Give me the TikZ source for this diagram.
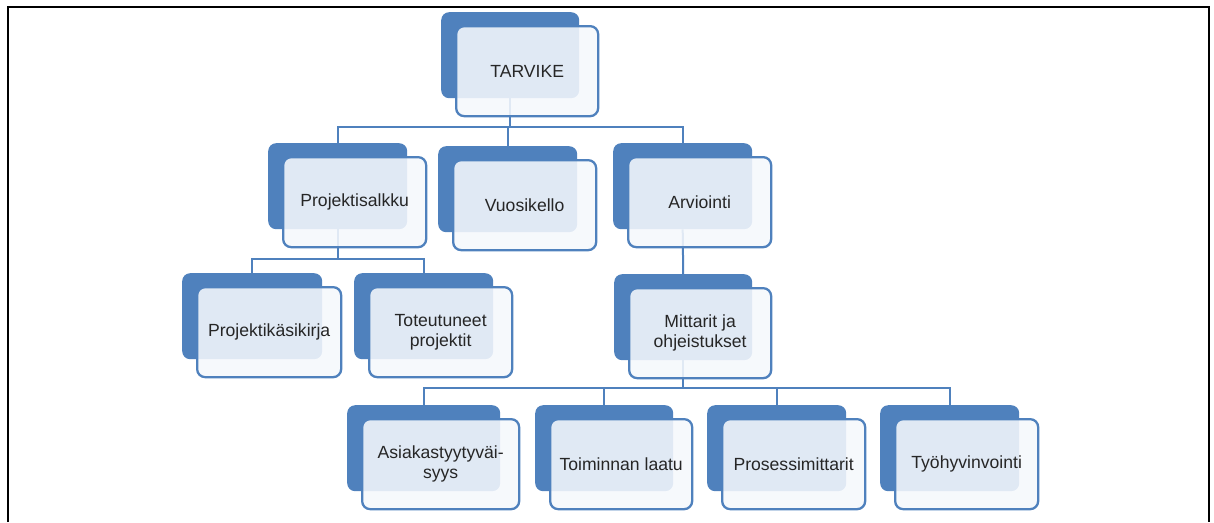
\documentclass[tikz,border=0pt]{standalone}
\usepackage{fontspec}
\setmainfont{Liberation Sans}
\definecolor{orgblue}{HTML}{4F81BD}
\definecolor{frontfill}{HTML}{F5F8FC}
\definecolor{txt}{HTML}{262626}
\pgfdeclarelayer{bg}
\pgfsetlayers{bg,main}
\tikzset{
  backbox/.style={fill=orgblue, draw=none, rounded corners=8pt, anchor=north west, minimum height=86pt, inner sep=0pt},
  frontbox/.style={fill=frontfill, fill opacity=0.88, text opacity=1, draw=orgblue, draw opacity=1, line width=2.3pt, rounded corners=8pt, anchor=north west, minimum height=90pt, inner sep=2pt, align=center, text=txt, font=\fontsize{17.6}{19.5}\selectfont},
  conn/.style={draw=orgblue, line width=2pt},
}
\newcommand{\orgnode}[5]{% name, left, top, backwidth, text
  \node[backbox, minimum width=#4pt] (#1b) at (#2,#3) {};
  \pgfmathsetmacro{\fl}{#2+14}\pgfmathsetmacro{\ft}{#3+13}\pgfmathsetmacro{\fw}{#4+4}
  \node[frontbox, minimum width=\fw pt] (#1) at (\fl,\ft) {#5};
}
\begin{document}
\begin{tikzpicture}[x=1pt,y=-1pt]
\useasboundingbox (0,0) rectangle (1214,522);
\draw[line width=2.2pt] (8,522) -- (8,7) -- (1209,7) -- (1209,522);

\orgnode{tar}{441}{12}{138}{TARVIKE}
\orgnode{ps}{268}{143}{139}{Projektisalkku}
\orgnode{vk}{438}{146}{139}{Vuosikello}
\orgnode{ar}{613}{143}{139}{Arviointi}
\orgnode{pk}{182}{273}{140}{Projektikäsikirja}
\orgnode{tp}{354}{273}{139}{Toteutuneet\\projektit}
\orgnode{mo}{614}{274}{138}{Mittarit ja\\ohjeistukset}
\orgnode{as}{347}{405}{153}{Asiakastyytyväi-\\syys}
\orgnode{tl}{535}{405}{138}{Toiminnan laatu}
\orgnode{pm}{707}{405}{139}{Prosessimittarit}
\orgnode{th}{880}{405}{139}{Työhyvinvointi}

\begin{pgfonlayer}{bg}
\coordinate (bus1) at (0,127);
\coordinate (bus2) at (0,259);
\coordinate (bus3) at (0,388);
\draw[conn] (tarb.south) -- (tarb.south |- bus1) -| (psb.north);
\draw[conn] (tarb.south |- bus1) -| (vkb.north);
\draw[conn] (tarb.south |- bus1) -| (arb.north);
\draw[conn] (psb.south) -- (psb.south |- bus2) -| (pkb.north);
\draw[conn] (psb.south |- bus2) -| (tpb.north);
\draw[conn] (arb.south) -- (mob.north);
\draw[conn] (mob.south) -- (mob.south |- bus3) -| (asb.north);
\draw[conn] (mob.south |- bus3) -| (tlb.north);
\draw[conn] (mob.south |- bus3) -| (pmb.north);
\draw[conn] (mob.south |- bus3) -| (thb.north);
\end{pgfonlayer}
\end{tikzpicture}
\end{document}
